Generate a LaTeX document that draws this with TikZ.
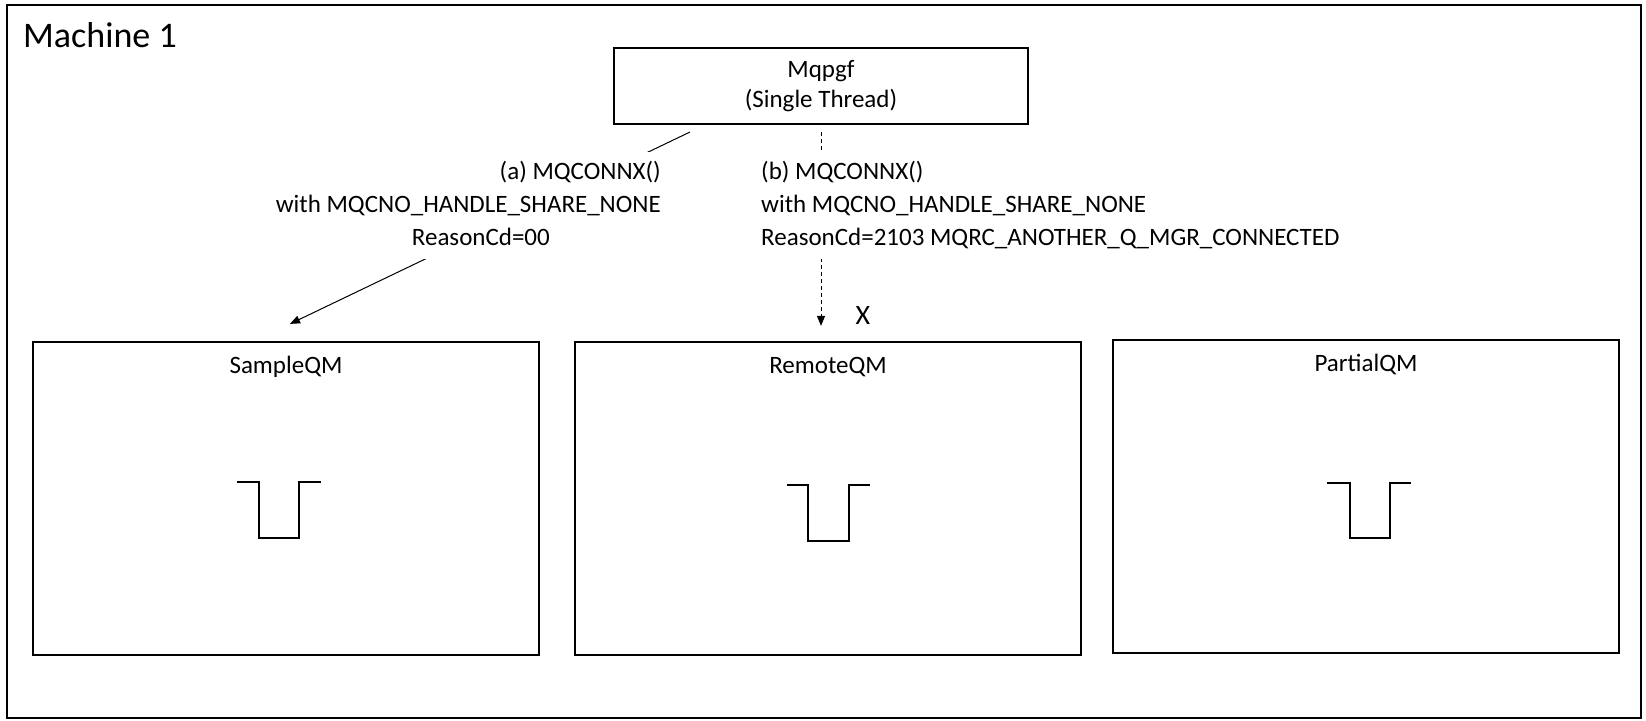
\documentclass[tikz,border=0pt]{standalone}
\usepackage{fontspec}
\setmainfont{Carlito}
\usetikzlibrary{arrows.meta,calc}
\begin{document}
\begin{tikzpicture}[x=1pt,y=-1pt,
  frame/.style={draw,line width=2pt,inner sep=0pt},
  box/.style={draw,line width=2pt,inner sep=0pt},
  qmbox/.style={box,minimum width=506pt,minimum height=313pt},
  txt/.style={font=\fontsize{25}{33}\selectfont},
  qmname/.style={txt,anchor=base,inner sep=0pt},
  lbl/.style={txt,fill=white,inner sep=4pt},
  conn/.style={line width=1pt,-{Triangle[length=10pt,width=8pt]}},
  dashconn/.style={conn,dash pattern=on 4pt off 3pt},
  queue/.style={line width=1.2pt}]
\useasboundingbox (0,0) rectangle (1646,720);
% outer frame
\node[frame,minimum width=1634pt,minimum height=713pt] (machine) at (824,361.5) {};
\node[anchor=base west,inner sep=0pt,font=\fontsize{36}{36}\selectfont] (title) at (23,47) {Machine 1};
% application box
\node[box,minimum width=414pt,minimum height=76pt,align=center,font=\fontsize{25}{30}\selectfont] (mq) at (821,86) {Mqpgf\\(Single Thread)};
% queue managers
\node[qmbox] (sample) at (286,498.4) {};
\node[qmbox] (remote) at (828,498.4) {};
\node[qmbox] (partial) at (1366,496.5) {};
\node[qmname] (samplename) at (286,373) {SampleQM};
\node[qmname] (remotename) at (828,373) {RemoteQM};
\node[qmname] (partialname) at (1366,371.5) {PartialQM};
% queue symbols
\draw[queue] (237,482) -- (259,482) -- (259,538) -- (299,538) -- (299,482) -- (321,482);
\draw[queue] (787,485) -- (808,485) -- (808,541) -- (849,541) -- (849,485) -- (870,485);
\draw[queue] (1327,483) -- (1350,483) -- (1350,538) -- (1390,538) -- (1390,483) -- (1411,483);
% connectors
\coordinate (astart) at ($(mq.south west)+(77,7)$);
\coordinate (aend) at ($(sample.north)+(4,-17)$);
\coordinate (bstart) at ($(mq.south)+(0,7)$);
\coordinate (bend) at ($(remote.north)+(-7,-15)$);
\draw[conn] (astart) -- (aend);
\draw[dashconn] (bstart) -- (bend);
% labels
\node[lbl,anchor=base east] (alabel) at (665,179) {\begin{tabular}[t]{@{}r@{}}(a) MQCONNX()\\with MQCNO\_HANDLE\_SHARE\_NONE\\ReasonCd=00\hspace*{111pt}\end{tabular}};
\node[lbl,anchor=base west] (blabel) at (757,179) {\begin{tabular}[t]{@{}l@{}}(b) MQCONNX()\\with MQCNO\_HANDLE\_SHARE\_NONE\\ReasonCd=2103 MQRC\_ANOTHER\_Q\_MGR\_CONNECTED\end{tabular}};
\node[font=\fontsize{28}{28}\selectfont,inner sep=0pt] (xmark) at (863,316) {X};
\end{tikzpicture}
\end{document}
